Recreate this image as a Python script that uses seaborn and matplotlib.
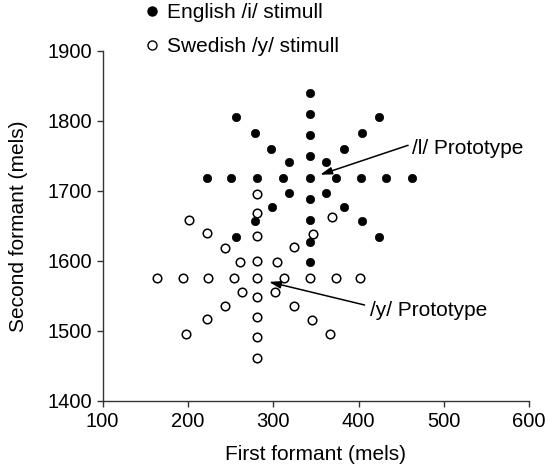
import matplotlib
matplotlib.use("Agg")
import matplotlib.pyplot as plt
from matplotlib.lines import Line2D
import seaborn as sns
import pandas as pd

# ---- data (mels) ----
english_f1 = [343, 343, 343, 343, 343, 343, 343, 343, 343,
              222, 251, 281, 311, 373, 403, 432, 462,
              256, 424, 278, 404, 297, 383, 318, 362,
              318, 362, 299, 383, 278, 404, 256, 424]
english_f2 = [1840, 1810, 1780, 1749, 1718, 1688, 1658, 1627, 1598,
              1718, 1718, 1718, 1718, 1718, 1718, 1718, 1718,
              1805, 1805, 1782, 1782, 1759, 1759, 1741, 1741,
              1697, 1697, 1677, 1677, 1657, 1657, 1634, 1634]

swedish_f1 = [281, 281, 281, 281, 281, 281, 281, 281, 281,
              164, 194, 224, 254, 313, 343, 373, 402,
              201, 369, 222, 347, 243, 324, 261, 304,
              263, 302, 243, 324, 222, 345, 198, 366]
swedish_f2 = [1696, 1669, 1636, 1600, 1575, 1549, 1520, 1491, 1462,
              1575, 1575, 1575, 1575, 1575, 1575, 1575, 1575,
              1659, 1663, 1640, 1638, 1619, 1620, 1598, 1598,
              1555, 1555, 1536, 1535, 1517, 1516, 1496, 1496]

legend_labels = ["English /i/ stimull", "Swedish /y/ stimull"]
x_ticks = [100, 200, 300, 400, 500, 600]
y_ticks = [1400, 1500, 1600, 1700, 1800, 1900]

sns.set_style("ticks")
plt.rcParams["font.family"] = ["Liberation Sans", "DejaVu Sans"]
plt.rcParams["text.color"] = "black"
plt.rcParams["axes.labelcolor"] = "black"
plt.rcParams["xtick.color"] = "black"
plt.rcParams["ytick.color"] = "black"

fig = plt.figure(figsize=(5.49, 4.66), dpi=100)
ax = fig.add_axes([0.187, 0.1395, 0.777, 0.7517])

eng = pd.DataFrame({"F1": english_f1, "F2": english_f2})
swe = pd.DataFrame({"F1": swedish_f1, "F2": swedish_f2})

sns.scatterplot(data=eng, x="F1", y="F2", ax=ax, color="black",
                edgecolor="black", linewidth=0.5, s=36, zorder=3)
sns.scatterplot(data=swe, x="F1", y="F2", ax=ax, color="white",
                edgecolor="black", linewidth=1.1, s=38, zorder=4)

ax.set_xlim(100, 600)
ax.set_ylim(1400, 1900)
ax.set_xticks(x_ticks)
ax.set_yticks(y_ticks)
ax.tick_params(axis="both", labelsize=14.5, length=4.3, width=1,
               color="#333333", labelcolor="black", pad=3.5)
for s in ["left", "bottom"]:
    ax.spines[s].set_linewidth(1)
    ax.spines[s].set_color("#333333")
sns.despine(ax=ax)

ax.set_xlabel("First formant (mels)", fontsize=15, color="black")
ax.set_ylabel("Second formant (mels)", fontsize=15, color="black")
ax.xaxis.set_label_coords(0.5, -0.125)
ax.yaxis.set_label_coords(-0.175, 0.5)

arrow_kw = dict(arrowstyle="-|>,head_length=0.7,head_width=0.22",
                color="black", lw=1.1, shrinkA=0, shrinkB=0)
ax.annotate("", xy=(355, 1723), xytext=(458, 1765), arrowprops=arrow_kw)
ax.text(463, 1761, "/l/ Prototype", fontsize=15, ha="left", va="center",
        color="black")
ax.annotate("", xy=(295, 1570), xytext=(407, 1537), arrowprops=arrow_kw)
ax.text(413, 1529, "/y/ Prototype", fontsize=15, ha="left", va="center",
        color="black")

handles = [
    Line2D([], [], linestyle="none", marker="o", markersize=6.5,
           markerfacecolor="black", markeredgecolor="black"),
    Line2D([], [], linestyle="none", marker="o", markersize=6.5,
           markerfacecolor="white", markeredgecolor="black", markeredgewidth=1),
]
fig.legend(handles, legend_labels, loc="upper left",
           bbox_to_anchor=(0.265, 0.993), frameon=False, fontsize=15,
           handlelength=0.6, handletextpad=0.42, labelspacing=0.72,
           borderpad=0, borderaxespad=0, labelcolor="black")

fig.savefig("out.png", dpi=100)
